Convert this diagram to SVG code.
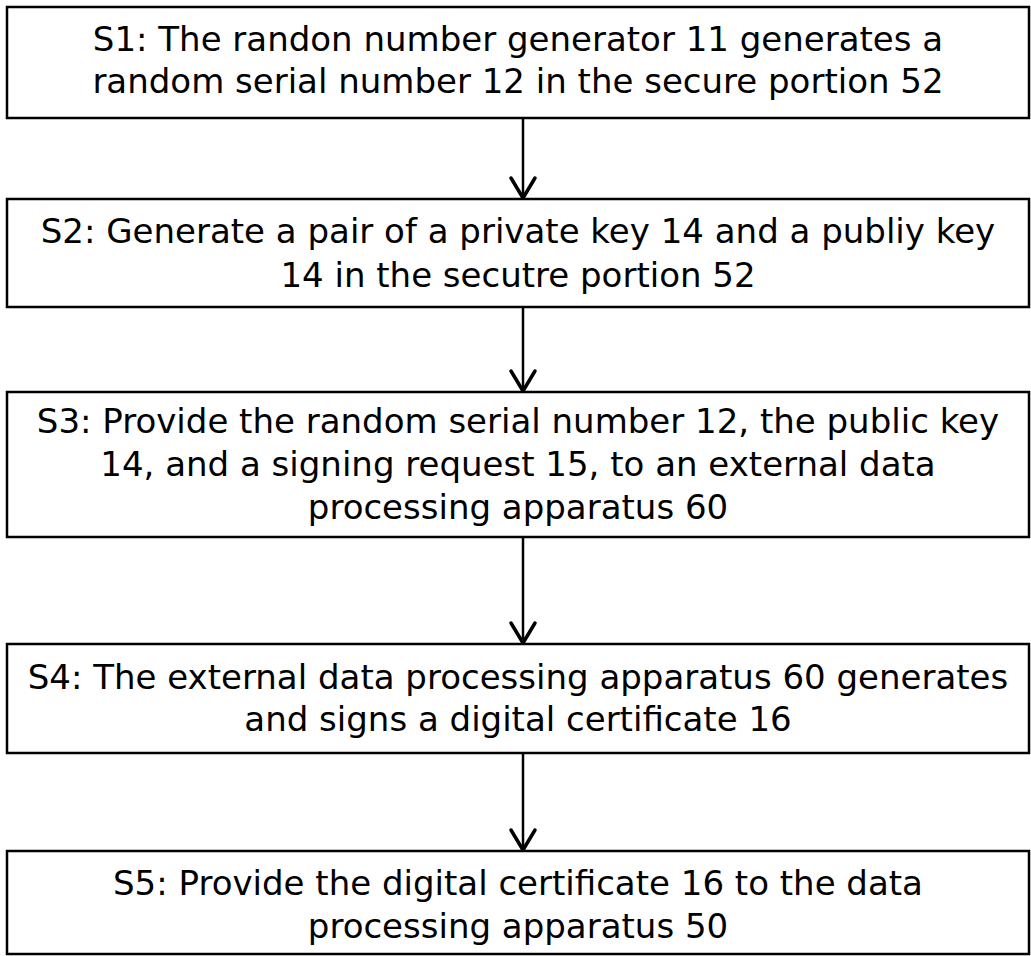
<svg xmlns="http://www.w3.org/2000/svg" width="1031" height="956" viewBox="0 0 1031 956">
<style>
.box{fill:#fff;stroke:#000;stroke-width:2.5}
.t{font-family:"DejaVu Sans",Verdana,sans-serif;font-size:34px;fill:#000;text-anchor:middle}
.c{fill:none;stroke:#000;stroke-width:2.5}
.h{fill:none;stroke:#000;stroke-width:3.5;stroke-linecap:round;stroke-linejoin:miter}
</style>
<rect width="1031" height="956" fill="#fff"/>
<g id="connectors">
<line class="c" x1="523" y1="118" x2="523" y2="198"/>
<polyline class="h" points="511,178 523,198 535,178"/>
<line class="c" x1="523" y1="307" x2="523" y2="391"/>
<polyline class="h" points="511,371 523,391 535,371"/>
<line class="c" x1="523" y1="537" x2="523" y2="643"/>
<polyline class="h" points="511,623 523,643 535,623"/>
<line class="c" x1="523" y1="753" x2="523" y2="850"/>
<polyline class="h" points="511,830 523,850 535,830"/>
</g>
<g id="s1">
<rect class="box" x="7" y="7" width="1022" height="111"/>
<text class="t" x="518" y="51">S1: The randon number generator 11 generates a</text>
<text class="t" x="518" y="93">random serial number 12 in the secure portion 52</text>
</g>
<g id="s2">
<rect class="box" x="7" y="199" width="1022" height="108"/>
<text class="t" x="518" y="243">S2: Generate a pair of a private key 14 and a publiy key</text>
<text class="t" x="518" y="287">14 in the secutre portion 52</text>
</g>
<g id="s3">
<rect class="box" x="7" y="392" width="1022" height="145"/>
<text class="t" x="518" y="433">S3: Provide the random serial number 12, the public key</text>
<text class="t" x="518" y="476">14, and a signing request 15, to an external data</text>
<text class="t" x="518" y="519">processing apparatus 60</text>
</g>
<g id="s4">
<rect class="box" x="7" y="644" width="1022" height="109"/>
<text class="t" x="518" y="689">S4: The external data processing apparatus 60 generates</text>
<text class="t" x="518" y="731">and signs a digital certificate 16</text>
</g>
<g id="s5">
<rect class="box" x="7" y="851" width="1022" height="103"/>
<text class="t" x="518" y="895">S5: Provide the digital certificate 16 to the data</text>
<text class="t" x="518" y="938">processing apparatus 50</text>
</g>
</svg>
